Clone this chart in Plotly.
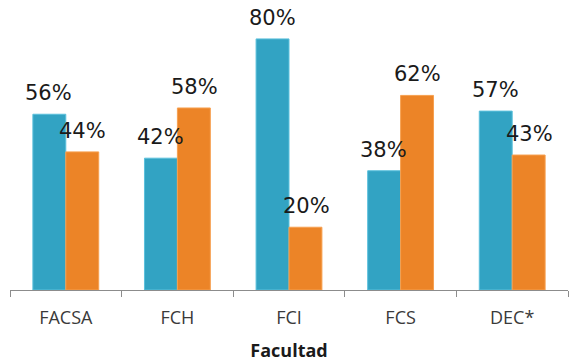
import plotly.graph_objects as go

facultades = ["FACSA", "FCH", "FCI", "FCS", "DEC*"]
serie_a = [56, 42, 80, 38, 57]
serie_b = [44, 58, 20, 62, 43]

BLUE = "#32A3C3"
ORANGE = "#EC8427"

fig = go.Figure()
fig.add_bar(x=facultades, y=serie_a, marker=dict(color=BLUE, line=dict(color="#5BC0DC", width=1)),
            name="A")
fig.add_bar(x=facultades, y=serie_b, marker=dict(color=ORANGE, line=dict(color="#F7A050", width=1)),
            name="B")

# labels above bars (offset half a bar width either side of the category)
for shift, vals in ((-17, serie_a), (17, serie_b)):
    for cat, v in zip(facultades, vals):
        fig.add_annotation(
            x=cat, y=v, text=f"{v}%", showarrow=False,
            xshift=shift, yshift=7, yanchor="bottom",
            font=dict(family="DejaVu Sans", size=21, color="#1a1a1a"),
        )

fig.update_layout(
    width=571, height=362,
    margin=dict(l=10, r=3, t=0, b=72),
    paper_bgcolor="white", plot_bgcolor="white",
    barmode="group", bargap=0.41, bargroupgap=0,
    showlegend=False,
    xaxis=dict(
        title=dict(text="<b>Facultad</b>", font=dict(family="Open Sans", size=18, color="#1a1a1a"), standoff=20),
        tickfont=dict(family="Open Sans", size=18, color="#3a3a3a"),
        ticklabelstandoff=11,
        showline=True, linecolor="#8c8c8c", linewidth=1,
        ticks="outside", tickson="boundaries", ticklen=6, tickcolor="#8c8c8c",
        showgrid=False, automargin=False,
    ),
    yaxis=dict(range=[0, 92.4], visible=False, automargin=False),
)

# page body has a default 8px margin; drop it so the figure sits at the window corner
fig.write_html("out.html", config={"displayModeBar": False},
               post_script="document.body.style.margin='0';")
